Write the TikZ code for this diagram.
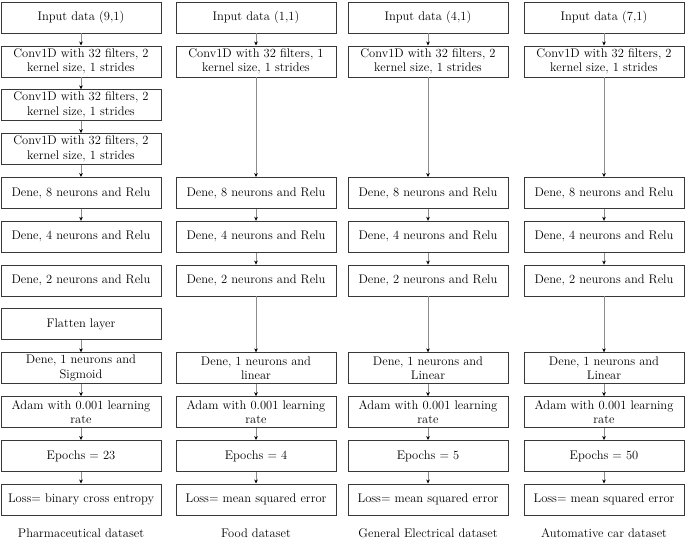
\documentclass[tikz,border=0pt]{standalone}
\usetikzlibrary{arrows.meta}
\begin{document}
\begin{tikzpicture}[x=1pt,y=-1pt,
  box/.style={draw=black!78, line width=0.8pt, minimum width=160pt, minimum height=31pt, inner sep=1pt, align=center, font=\fontsize{12.5}{14.8}\selectfont, anchor=north},
  lbl/.style={font=\fontsize{12.5}{14.8}\selectfont},
  arr/.style={draw=black!45, line width=0.6pt, -{Stealth[length=4pt,width=3.6pt,color=black]}}]
\useasboundingbox (0,0) rectangle (685,544);
% column 1
\node[box] (a0) at (81,1.5) {Input data (9,1)};
\node[box] (a1) at (81,45.5) {Conv1D with 32 filters, 2\\kernel size, 1 strides};
\node[box] (a2) at (81,89.3) {Conv1D with 32 filters, 2\\kernel size, 1 strides};
\node[box] (a3) at (81,133.1) {Conv1D with 32 filters, 2\\kernel size, 1 strides};
\node[box] (a4) at (81,177) {Dene, 8 neurons and Relu};
\node[box] (a5) at (81,220.8) {Dene, 4 neurons and Relu};
\node[box] (a6) at (81,264.6) {Dene, 2 neurons and Relu};
\node[box] (a7) at (81,308.4) {Flatten layer};
\node[box] (a8) at (81,352.3) {Dene, 1 neurons and\\Sigmoid};
\node[box] (a9) at (81,396.1) {Adam with 0.001 learning\\rate};
\node[box] (a10) at (81,440) {Epochs = 23};
\node[box] (a11) at (81,483.5) {Loss= binary cross entropy};
\node[lbl] (la) at (81,533) {Pharmaceutical dataset};
% column 2
\node[box] (b0) at (256,1.5) {Input data (1,1)};
\node[box] (b1) at (256,45.5) {Conv1D with 32 filters, 1\\kernel size, 1 strides};
\node[box] (b4) at (256,177) {Dene, 8 neurons and Relu};
\node[box] (b5) at (256,220.8) {Dene, 4 neurons and Relu};
\node[box] (b6) at (256,264.6) {Dene, 2 neurons and Relu};
\node[box] (b8) at (256,352.3) {Dene, 1 neurons and\\linear};
\node[box] (b9) at (256,396.1) {Adam with 0.001 learning\\rate};
\node[box] (b10) at (256,440) {Epochs = 4};
\node[box] (b11) at (256,483.5) {Loss= mean squared error};
\node[lbl] (lb) at (256,533) {Food dataset};
% column 3
\node[box] (c0) at (428,1.5) {Input data (4,1)};
\node[box] (c1) at (428,45.5) {Conv1D with 32 filters, 2\\kernel size, 1 strides};
\node[box] (c4) at (428,177) {Dene, 8 neurons and Relu};
\node[box] (c5) at (428,220.8) {Dene, 4 neurons and Relu};
\node[box] (c6) at (428,264.6) {Dene, 2 neurons and Relu};
\node[box] (c8) at (428,352.3) {Dene, 1 neurons and\\Linear};
\node[box] (c9) at (428,396.1) {Adam with 0.001 learning\\rate};
\node[box] (c10) at (428,440) {Epochs = 5};
\node[box] (c11) at (428,483.5) {Loss= mean squared error};
\node[lbl] (lc) at (428,533) {General Electrical dataset};
% column 4
\node[box] (d0) at (604,1.5) {Input data (7,1)};
\node[box] (d1) at (604,45.5) {Conv1D with 32 filters, 2\\kernel size, 1 strides};
\node[box] (d4) at (604,177) {Dene, 8 neurons and Relu};
\node[box] (d5) at (604,220.8) {Dene, 4 neurons and Relu};
\node[box] (d6) at (604,264.6) {Dene, 2 neurons and Relu};
\node[box] (d8) at (604,352.3) {Dene, 1 neurons and\\Linear};
\node[box] (d9) at (604,396.1) {Adam with 0.001 learning\\rate};
\node[box] (d10) at (604,440) {Epochs = 50};
\node[box] (d11) at (604,483.5) {Loss= mean squared error};
\node[lbl] (ld) at (604,533) {Automative car dataset};
% arrows
\foreach \p/\q in {a0/a1,a1/a2,a2/a3,a3/a4,a4/a5,a7/a8,a8/a9,a9/a10,a10/a11,
  b0/b1,b1/b4,b4/b5,b5/b6,b6/b8,b8/b9,b9/b10,b10/b11,
  c0/c1,c1/c4,c4/c5,c5/c6,c6/c8,c8/c9,c9/c10,c10/c11,
  d0/d1,d1/d4,d4/d5,d5/d6,d6/d8,d8/d9,d9/d10,d10/d11}
  \draw[arr] (\p.south) -- (\q.north);
\end{tikzpicture}
\end{document}
